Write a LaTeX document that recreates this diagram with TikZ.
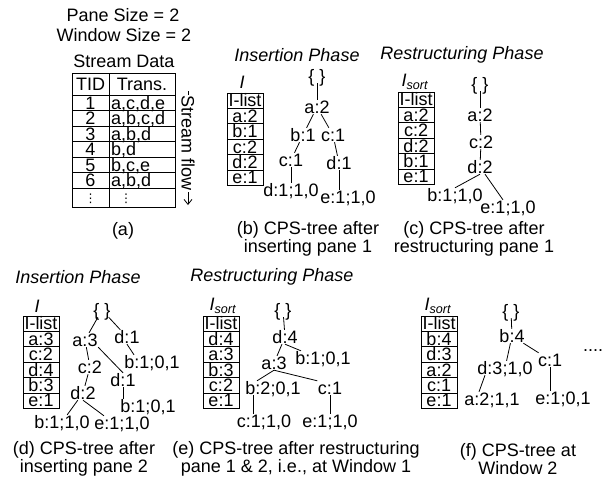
\documentclass[tikz,border=0pt]{standalone}
\usepackage{fontspec}
\setmainfont{Liberation Sans}
\newfontfamily\symfont{DejaVu Sans}
\usetikzlibrary{arrows.meta,positioning}

\begin{document}
\begin{tikzpicture}[
  x=1pt, y=-1pt, font=\fontsize{18}{18}\selectfont,
  lbl/.style={inner sep=0.5pt, text height=13pt, text depth=0pt},
  phase/.style={font=\fontsize{18}{18}\selectfont\itshape},
  capt/.style={align=center, font=\fontsize{18}{18}\selectfont},
  cell/.style={draw, line width=0.8pt, minimum width=36pt, minimum height=15.4pt,
    inner sep=0pt, outer sep=0pt, text height=12.5pt, text depth=0pt},
  tcell/.style={cell, minimum width=37pt, minimum height=15.5pt},
  trcell/.style={cell, text width=62pt, align=left, inner xsep=2pt, minimum height=15.5pt},
  dotcell/.style={minimum height=19pt, text height=9pt, font=\fontsize{12}{12}\selectfont\symfont},
  edge/.style={line width=0.8pt},
]
\useasboundingbox (0,0) rectangle (612,483);

% (a) stream data
\node (pane) at (123,15) {Pane Size = 2};
\node (window) at (124,35) {Window Size = 2};
\node (stream) at (124,61) {Stream Data};
\node[tcell, minimum height=22pt] (tid) at (90.5,84) {TID};
\node[trcell, minimum height=22pt, align=center, right=0pt of tid] (trans) {Trans.};
\node[tcell, below=0pt of tid] (t1) {1};
\node[trcell, right=0pt of t1] (r1) {a,c,d,e};
\node[tcell, below=0pt of t1] (t2) {2};
\node[trcell, right=0pt of t2] (r2) {a,b,c,d};
\node[tcell, below=0pt of t2] (t3) {3};
\node[trcell, right=0pt of t3] (r3) {a,b,d};
\node[tcell, below=0pt of t3] (t4) {4};
\node[trcell, right=0pt of t4] (r4) {b,d};
\node[tcell, below=0pt of t4] (t5) {5};
\node[trcell, right=0pt of t5] (r5) {b,c,e};
\node[tcell, below=0pt of t5] (t6) {6};
\node[trcell, right=0pt of t6] (r6) {a,b,d};
\node[tcell, dotcell, below=0pt of t6] (t7) {⋮};
\node[trcell, dotcell, right=0pt of t7] (r7) {\hspace*{9pt}⋮};
\coordinate (flowtop) at (188,91);
\coordinate (flowbot) at (188,205);
\draw[edge,-{Straight Barb[length=5pt,width=8pt]}] (flowtop) -- (flowbot)
  node[pos=0.46, rotate=-90, fill=white, inner sep=1pt] (flow) {Stream flow};
\node[capt] (capa) at (123,231) {(a)};

% (b) insertion of pane 1
\node[phase] (insb) at (297,55) {Insertion Phase};
\node[lbl, font=\fontsize{18}{18}\selectfont\itshape] (ib) at (242,82) {I};
\node[cell] (bl0) at (245,100.7) {I-list};
\node[cell, below=0pt of bl0] (bl1) {a:2};
\node[cell, below=0pt of bl1] (bl2) {b:1};
\node[cell, below=0pt of bl2] (bl3) {c:2};
\node[cell, below=0pt of bl3] (bl4) {d:2};
\node[cell, below=0pt of bl4] (bl5) {e:1};
\node[lbl] (broot) at (317,76) {\{ \}};
\node[lbl] (ba) at (317,107) {a:2};
\node[lbl] (bb) at (303,135) {b:1};
\node[lbl] (bc) at (333,135) {c:1};
\node[lbl] (bbc) at (291,160) {c:1};
\node[lbl] (bcd) at (339,163) {d:1};
\node[lbl] (bbcd) at (291,190) {d:1;1,0};
\node[lbl] (bcde) at (348,197) {e:1;1,0};
\draw[edge] (broot) -- (ba);
\draw[edge] (ba) -- (bb);
\draw[edge] (ba) -- (bc);
\draw[edge] (bb) -- (bbc);
\draw[edge] (bbc) -- (bbcd);
\draw[edge] (bc) -- (bcd);
\draw[edge] (bcd.south) -- (bcd.south |- bcde.north);
\node[capt] (capb) at (308,239) {(b) CPS-tree after\\inserting pane 1};

% (c) restructuring of pane 1
\node[phase] (resc) at (462,55) {Restructuring Phase};
\node[lbl] (ic) at (415,80) {\textit{I}\textsubscript{\textit{sort}}};
\node[cell] (cl0) at (416,99.7) {I-list};
\node[cell, below=0pt of cl0] (cl1) {a:2};
\node[cell, below=0pt of cl1] (cl2) {c:2};
\node[cell, below=0pt of cl2] (cl3) {d:2};
\node[cell, below=0pt of cl3] (cl4) {b:1};
\node[cell, below=0pt of cl4] (cl5) {e:1};
\node[lbl] (croot) at (480,84) {\{ \}};
\node[lbl] (ca) at (480,115) {a:2};
\node[lbl] (cc) at (481,142) {c:2};
\node[lbl] (cd) at (480,167) {d:2};
\node[lbl] (cdb) at (455,195) {b:1;1,0};
\node[lbl] (cde) at (508,207) {e:1;1,0};
\draw[edge] (croot) -- (ca);
\draw[edge] (ca) -- (cc);
\draw[edge] (cc) -- (cd);
\draw[edge] (cd.south) -- (cdb.north);
\draw[edge] (cd) -- (cde);
\node[capt] (capc) at (474,239) {(c) CPS-tree after\\restructuring pane 1};

% (d) insertion of pane 2
\node[phase] (insd) at (78,277) {Insertion Phase};
\node[lbl, font=\fontsize{18}{18}\selectfont\itshape] (id) at (37,306) {I};
\node[cell] (dl0) at (41,323.7) {I-list};
\node[cell, below=0pt of dl0] (dl1) {a:3};
\node[cell, below=0pt of dl1] (dl2) {c:2};
\node[cell, below=0pt of dl2] (dl3) {d:4};
\node[cell, below=0pt of dl3] (dl4) {b:3};
\node[cell, below=0pt of dl4] (dl5) {e:1};
\node[lbl] (droot) at (102,310) {\{ \}};
\node[lbl] (da) at (85,340) {a:3};
\node[lbl] (dd) at (127,337) {d:1};
\node[lbl] (ddb) at (152,362) {b:1;0,1};
\node[lbl] (dac) at (90,367) {c:2};
\node[lbl] (dad) at (123,380) {d:1};
\node[lbl] (dacd) at (83,393) {d:2};
\node[lbl] (dadb) at (148,406) {b:1;0,1};
\node[lbl] (dacdb) at (62,422) {b:1;1,0};
\node[lbl] (dacde) at (122,423) {e:1;1,0};
\draw[edge] (droot) -- (da);
\draw[edge] (droot) -- (dd);
\draw[edge] (dd.south) -- ([xshift=-18pt]ddb.north);
\draw[edge] (da) -- (dac);
\draw[edge] (da.south east) -- (dad.north);
\draw[edge] (dac) -- (dacd);
\draw[edge] (dad.south) -- (dad.south |- dadb.north);
\draw[edge] (dacd) -- (dacdb);
\draw[edge] (dacd.south) -- ([xshift=-18pt]dacde.north);
\node[capt] (capd) at (84,459) {(d) CPS-tree after\\inserting pane 2};

% (e) restructuring of panes 1 and 2
\node[phase] (rese) at (272,277) {Restructuring Phase};
\node[lbl] (ie) at (223,304) {\textit{I}\textsubscript{\textit{sort}}};
\node[cell] (el0) at (221,323.7) {I-list};
\node[cell, below=0pt of el0] (el1) {d:4};
\node[cell, below=0pt of el1] (el2) {a:3};
\node[cell, below=0pt of el2] (el3) {b:3};
\node[cell, below=0pt of el3] (el4) {c:2};
\node[cell, below=0pt of el4] (el5) {e:1};
\node[lbl] (eroot) at (283,310) {\{ \}};
\node[lbl] (ed) at (285,337) {d:4};
\node[lbl] (ea) at (274,363) {a:3};
\node[lbl] (edb) at (323,358) {b:1;0,1};
\node[lbl] (eab) at (273,388) {b:2;0,1};
\node[lbl] (eac) at (330,388) {c:1};
\node[lbl] (eabc) at (264,421) {c:1;1,0};
\node[lbl] (eace) at (330,421) {e:1;1,0};
\draw[edge] (eroot) -- (ed);
\draw[edge] (ed) -- (ea);
\draw[edge] (ed.south) -- ([xshift=-22pt]edb.north);
\draw[edge] (ea.south) -- ([xshift=-16pt]eab.north);
\draw[edge] (ea.south) -- (eac.north west);
\draw[edge] ([xshift=-20pt]eab.south) -- ([xshift=-20pt]eab.south |- eabc.north);
\draw[edge] (eac) -- (eace);
\node[capt] (cape) at (296,459) {(e) CPS-tree after restructuring\\pane 1 \& 2, i.e., at Window 1};

% (f) window 2
\node[lbl] (if) at (438,304) {\textit{I}\textsubscript{\textit{sort}}};
\node[cell] (fl0) at (439,323.7) {I-list};
\node[cell, below=0pt of fl0] (fl1) {b:4};
\node[cell, below=0pt of fl1] (fl2) {d:3};
\node[cell, below=0pt of fl2] (fl3) {a:2};
\node[cell, below=0pt of fl3] (fl4) {c:1};
\node[cell, below=0pt of fl4] (fl5) {e:1};
\node[lbl] (froot) at (511,311) {\{ \}};
\node[lbl] (fb) at (512,336) {b:4};
\node[lbl] (fd) at (505,368) {d:3;1,0};
\node[lbl] (fc) at (550,360) {c:1};
\node[lbl] (fda) at (492,399) {a:2;1,1};
\node[lbl] (fce) at (563,398) {e:1;0,1};
\node[lbl] (fmore) at (593,345) {....};
\draw[edge] (froot) -- (fb);
\draw[edge] (fb) -- (fd);
\draw[edge] (fb) -- (fc);
\draw[edge] ([xshift=-20pt]fd.south) -- ([xshift=-13pt]fda.north);
\draw[edge] (fc.south) -- (fc.south |- fce.north);
\node[capt] (capf) at (518,459) {(f) CPS-tree at\\Window 2};
\end{tikzpicture}
\end{document}
